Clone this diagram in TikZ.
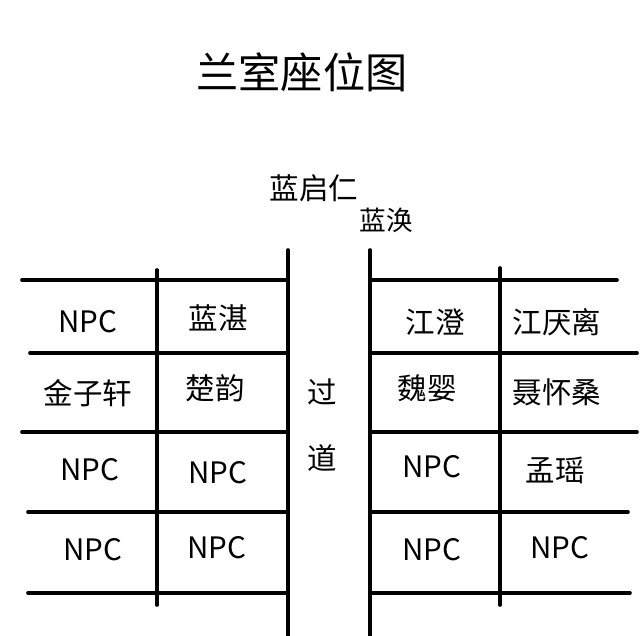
\documentclass[tikz,border=0pt]{standalone}
\usepackage{fontspec}
\newfontfamily\cjk{Noto Sans CJK SC}
\tikzset{grid line/.style={line width=2.6pt},
  seat/.style={font=\cjk\fontsize{21}{24}\selectfont}}
\begin{document}
\begin{tikzpicture}[x=0.025cm,y=-0.025cm,line join=round,line cap=round]
	\useasboundingbox (0,0) rectangle (640,636);
	% title and teachers
	\node[font=\cjk\fontsize{30}{34}\selectfont] (title) at (302,72) {兰室座位图};
	\node[seat] (qiren) at (314,188) {蓝启仁};
	\node[seat,font=\cjk\fontsize{19}{22}\selectfont] (huan) at (386,220) {蓝涣};
	% aisle
	\draw[grid line] (288,250)--(288,636);
	\draw[grid line] (370,250)--(370,636);
	\node[seat] (guo) at (322,392) {过};
	\node[seat] (dao) at (322,458) {道};
	% left desks
	\foreach \y/\xa in {280/22,353/30,432/22,512/28,593/28}
		\draw[grid line] (\xa,\y)--(288,\y);
	\draw[grid line] (157,270)--(157,605);
	% right desks
	\foreach \y/\xb in {280/617,353/637,432/637,512/628,593/630}
		\draw[grid line] (370,\y)--(\xb,\y);
	\draw[grid line] (500,268)--(500,605);
	% seats
	\node[seat] (l11) at (88,322) {NPC};
	\node[seat] (l12) at (218,318) {蓝湛};
	\node[seat] (l21) at (88,393) {金子轩};
	\node[seat] (l22) at (215,388) {楚韵};
	\node[seat] (l31) at (90,470) {NPC};
	\node[seat] (l32) at (218,473) {NPC};
	\node[seat] (l41) at (93,550) {NPC};
	\node[seat] (l42) at (217,548) {NPC};
	\node[seat] (r11) at (435,322) {江澄};
	\node[seat] (r12) at (557,322) {江厌离};
	\node[seat] (r21) at (427,388) {魏婴};
	\node[seat] (r22) at (557,392) {聂怀桑};
	\node[seat] (r31) at (432,467) {NPC};
	\node[seat] (r32) at (555,470) {孟瑶};
	\node[seat] (r41) at (432,550) {NPC};
	\node[seat] (r42) at (560,548) {NPC};
\end{tikzpicture}
\end{document}
